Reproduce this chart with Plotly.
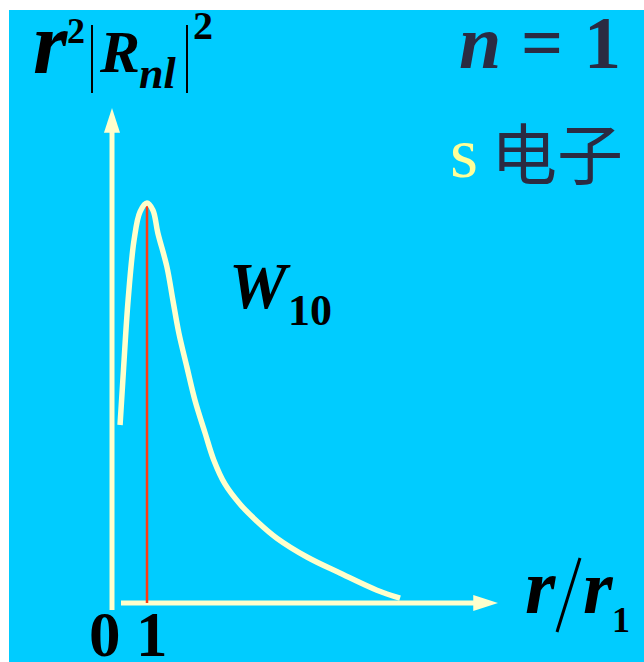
import plotly.graph_objects as go

# Radial probability density r^2|R_nl|^2 for n=1, l=0 (1s), in arbitrary units, r in units of r1
r_vals = [0.23, 0.31, 0.46, 0.63, 0.80, 1.00, 1.17, 1.31, 1.57, 1.74, 1.91, 2.14, 2.37,
          2.66, 2.91, 3.23, 3.66, 4.17, 4.71, 5.57, 6.51, 7.57, 8.23]
p_vals = [0.445, 0.557, 0.757, 0.907, 0.978, 1.000, 0.982, 0.925, 0.840, 0.757, 0.675, 0.590, 0.507,
          0.425, 0.357, 0.297, 0.247, 0.202, 0.162, 0.115, 0.075, 0.032, 0.012]
r_peak = 1.0
p_peak = 1.0

W, H = 644, 662
CYAN = "#00CCFF"
CREAM = "#FFFFCC"
NAVY = "#2B2B42"
SERIF = "Liberation Serif, Times New Roman, serif"

# pixel -> data helpers (origin of the axes at pixel (112, 603), 35 px per r1, 400 px per unit)
def X(px):
    return (px - 112) / 35.0

def Y(py):
    return (603 - py) / 400.0

fig = go.Figure()

# axes drawn as lines with arrowheads
fig.add_trace(go.Scatter(x=[X(112), X(112)], y=[Y(610), Y(120)], mode="lines",
                         line=dict(color=CREAM, width=5), hoverinfo="skip"))
fig.add_trace(go.Scatter(x=[X(121), X(485)], y=[Y(603), Y(603)], mode="lines",
                         line=dict(color=CREAM, width=5), hoverinfo="skip"))
fig.add_trace(go.Scatter(x=[X(112), X(498)], y=[Y(108), Y(603)], mode="markers",
                         marker=dict(symbol="arrow", size=26, angle=[0, 90], color=CREAM,
                                     line=dict(width=0)), hoverinfo="skip"))

# most probable radius
fig.add_trace(go.Scatter(x=[r_peak, r_peak], y=[0, p_peak], mode="lines",
                         line=dict(color="#FF3A10", width=2.5), hoverinfo="skip"))

# W10 curve
fig.add_trace(go.Scatter(x=r_vals, y=p_vals, mode="lines",
                         line=dict(color=CREAM, width=5.5, shape="spline", smoothing=1.0),
                         hoverinfo="skip"))

ann = []

def txt(text, cx, baseline, size, color="#000000", italic=False, bold=True, family=SERIF, k=0.3375):
    cy = baseline - k * size
    ann.append(dict(text=text, x=X(cx), y=Y(cy), xref="x", yref="y", showarrow=False,
                    xanchor="center", yanchor="middle",
                    font=dict(family=family, size=size, color=color,
                              weight="bold" if bold else "normal",
                              style="italic" if italic else "normal")))

# y-axis label  r^2 |R_nl|^2
txt("r", 50, 73, 88, italic=True)
txt("2", 76, 43, 36)
txt("R", 119, 72, 60, italic=True)
txt("nl", 157, 88, 44, italic=True)
txt("2", 203, 39, 40)

# x-axis label  r / r1
txt("r", 540, 613, 78, italic=True)
txt("r", 598, 613, 76, italic=True)
txt("1", 621, 632, 36)

# tick labels
txt("0", 105, 656, 63)
txt("1", 152, 656, 63)

# curve label W10
txt("W", 260, 308, 65, italic=True)
txt("10", 310, 325, 44)

# n = 1
txt("n", 480, 68, 76, color=NAVY, italic=True)
txt("=", 542, 68, 74, color=NAVY)
txt("1", 602, 68, 74, color=NAVY)

# s 电子
txt("s", 464, 177, 72, color="#FFFF99", bold=False)
txt("电子", 557, 150, 66, color=NAVY, bold=False, family="Noto Sans CJK SC", k=0.0)

shapes = [
    # absolute-value bars
    dict(type="line", xref="x", yref="y", x0=X(92), x1=X(92), y0=Y(25), y1=Y(93),
         line=dict(color="#000000", width=2)),
    dict(type="line", xref="x", yref="y", x0=X(187), x1=X(187), y0=Y(25), y1=Y(93),
         line=dict(color="#000000", width=2)),
    # slash in r/r1
    dict(type="line", xref="x", yref="y", x0=X(557), x1=X(580), y0=Y(632), y1=Y(558),
         line=dict(color="#000000", width=3)),
]

fig.update_layout(
    width=W, height=H,
    margin=dict(l=9, r=0, t=10, b=0),
    paper_bgcolor="#FFFFFF",
    plot_bgcolor=CYAN,
    showlegend=False,
    xaxis=dict(range=[X(9), X(644)], visible=False, fixedrange=True),
    yaxis=dict(range=[Y(662), Y(10)], visible=False, fixedrange=True),
    annotations=ann,
    shapes=shapes,
)

fig.write_html("out.html")
